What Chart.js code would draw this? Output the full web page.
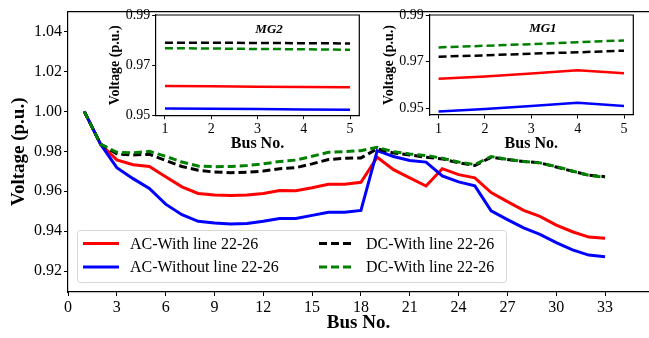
<!DOCTYPE html>
<html>
<head>
<meta charset="utf-8">
<script src="https://cdn.jsdelivr.net/npm/chart.js@4/dist/chart.umd.min.js"></script>
<style>
  html, body { margin: 0; padding: 0; background: #fff; overflow: hidden; }
  #wrap { position: relative; width: 649px; height: 338px; }
  canvas { position: absolute; }
</style>
</head>
<body>
<div id="wrap">
  <canvas id="mainChart" style="left:0;top:0;width:649px;height:338px" width="649" height="338"></canvas>
  <canvas id="mg2Chart" style="left:100px;top:0;width:270px;height:160px" width="270" height="160"></canvas>
  <canvas id="mg1Chart" style="left:375px;top:0;width:274px;height:160px" width="274" height="160"></canvas>
</div>
<script>
// Data utama (33 bus)
const buses = [1,2,3,4,5,6,7,8,9,10,11,12,13,14,15,16,17,18,19,20,21,22,23,24,25,26,27,28,29,30,31,32,33];
const acWith = [1.000, 0.9836, 0.9757, 0.9733, 0.9724, 0.9672, 0.9622, 0.9589, 0.9581, 0.9578, 0.9581, 0.9589, 0.9604, 0.9602, 0.9617, 0.9635, 0.9635, 0.9645, 0.9770, 0.9708, 0.9667, 0.9626, 0.9713, 0.9683, 0.9667, 0.9593, 0.9548, 0.9504, 0.9474, 0.9430, 0.9397, 0.9370, 0.9364];
const acWithout = [1.000, 0.9836, 0.9718, 0.9663, 0.9614, 0.9535, 0.9482, 0.9449, 0.9441, 0.9436, 0.9438, 0.9449, 0.9463, 0.9463, 0.9479, 0.9495, 0.9495, 0.9504, 0.9803, 0.9774, 0.9754, 0.9746, 0.9677, 0.9647, 0.9627, 0.9502, 0.9458, 0.9416, 0.9384, 0.9342, 0.9306, 0.9280, 0.9272];
const dcWithBlack = [1.000, 0.9836, 0.9787, 0.9782, 0.9785, 0.9754, 0.9724, 0.9705, 0.9696, 0.9693, 0.9695, 0.9701, 0.9713, 0.9718, 0.9737, 0.9759, 0.9765, 0.9767, 0.9812, 0.9792, 0.9782, 0.9770, 0.9762, 0.9742, 0.9729, 0.9770, 0.9759, 0.9749, 0.9742, 0.9721, 0.9700, 0.9680, 0.9673];
const dcWithGreen = [1.000, 0.9836, 0.9795, 0.9792, 0.9800, 0.9775, 0.9746, 0.9726, 0.9723, 0.9724, 0.9729, 0.9737, 0.9749, 0.9756, 0.9775, 0.9795, 0.9798, 0.9803, 0.9820, 0.9798, 0.9787, 0.9779, 0.9765, 0.9746, 0.9734, 0.9774, 0.9759, 0.9749, 0.9742, 0.9724, 0.9701, 0.9680, 0.9670];

const mainXTicks = [0,3,6,9,12,15,18,21,24,27,30,33];
const mainYTicks = [0.92,0.94,0.96,0.98,1.00,1.02,1.04];

// Inset MG2 / MG1 (5 bus)
const mgBuses = [1,2,3,4,5];
const mg2AcWith = [0.9618, 0.9617, 0.9615, 0.9614, 0.9613];
const mg2AcWithout = [0.9529, 0.9528, 0.9527, 0.9525, 0.9524];
const mg2DcBlack = [0.9790, 0.9790, 0.9789, 0.9788, 0.9787];
const mg2DcGreen = [0.9768, 0.9767, 0.9765, 0.9764, 0.9762];

const mg1AcWith = [0.9626, 0.9636, 0.9649, 0.9663, 0.9650];
const mg1AcWithout = [0.9486, 0.9497, 0.9510, 0.9524, 0.9510];
const mg1DcBlack = [0.9721, 0.9727, 0.9734, 0.9740, 0.9747];
const mg1DcGreen = [0.9761, 0.9768, 0.9775, 0.9783, 0.9791];

const mgXTicks = [1,2,3,4,5];
const mgYTicks = [0.95,0.97,0.99];

const labels = ['AC-With line 22-26', 'AC-Without line 22-26', 'DC-With line 22-26', 'DC-With line 22-26'];
const colors = ['#ff0000', '#0000ff', '#000000', '#008000'];
const SERIF = '"Liberation Serif", Tinos, "DejaVu Serif", serif';

function makeDatasets(xs, series, lw) {
    return series.map((ys, i) => ({
        label: labels[i],
        data: xs.map((x, j) => ({ x: x, y: ys[j] })),
        borderColor: colors[i],
        borderWidth: lw,
        borderDash: i >= 2 ? [8, 4] : [],
        pointRadius: 0,
        tension: 0,
        fill: false,
        order: 4 - i
    }));
}

// Bingkai atas / kanan dan judul MG
const framePlugin = {
    id: 'frame',
    beforeDraw(chart, args, opts) {
        const a = chart.chartArea;
        const ctx = chart.ctx;
        if (opts.fill) {
            ctx.save();
            ctx.fillStyle = '#ffffff';
            ctx.fillRect(a.left, a.top, a.right - a.left, a.bottom - a.top);
            ctx.restore();
        }
    },
    afterDraw(chart, args, opts) {
        const a = chart.chartArea;
        const ctx = chart.ctx;
        ctx.save();
        ctx.strokeStyle = '#000';
        ctx.lineWidth = 1.2;
        ctx.beginPath();
        ctx.moveTo(a.left, a.top);
        ctx.lineTo(a.right, a.top);
        if (opts.right) ctx.lineTo(a.right, a.bottom);
        ctx.stroke();
        if (opts.title) {
            const x = chart.scales.x.getPixelForValue(opts.titleX);
            const y = chart.scales.y.getPixelForValue(opts.titleY);
            ctx.fillStyle = '#000';
            ctx.textAlign = 'center';
            ctx.textBaseline = 'middle';
            ctx.font = 'italic bold 13px ' + SERIF;
            ctx.fillText(opts.title, x, y);
        }
        ctx.restore();
    }
};

// Legenda dua kolom di dalam area plot
const legendPlugin = {
    id: 'boxLegend',
    afterDraw(chart, args, opts) {
        if (!opts.show) return;
        const ctx = chart.ctx;
        const ds = chart.data.datasets;
        const bx = 77, by = 230, bw = 429, bh = 52;
        ctx.save();
        ctx.fillStyle = 'rgba(255,255,255,0.8)';
        ctx.strokeStyle = '#d6d6d6';
        ctx.lineWidth = 1;
        ctx.beginPath();
        ctx.roundRect(bx + 0.5, by + 0.5, bw, bh, 3);
        ctx.fill();
        ctx.stroke();
        const cols = [{ lx: 83, tx: 130 }, { lx: 319, tx: 366 }];
        const rows = [243.5, 267];
        ctx.font = '16px ' + SERIF;
        ctx.textBaseline = 'middle';
        ctx.textAlign = 'left';
        ds.forEach((d, i) => {
            const c = cols[Math.floor(i / 2)];
            const y = rows[i % 2];
            ctx.strokeStyle = d.borderColor;
            ctx.lineWidth = 3;
            ctx.setLineDash(d.borderDash);
            ctx.beginPath();
            ctx.moveTo(c.lx, y);
            ctx.lineTo(c.lx + 36, y);
            ctx.stroke();
            ctx.setLineDash([]);
            ctx.fillStyle = '#000';
            ctx.fillText(d.label, c.tx, y + 1);
        });
        ctx.restore();
    }
};

function axisOpts(cfg) {
    return {
        type: 'linear',
        min: cfg.min,
        max: cfg.max,
        afterBuildTicks: (scale) => { scale.ticks = cfg.ticks.map(v => ({ value: v })); },
        afterFit: (scale) => {
            if (cfg.width !== undefined) scale.width = cfg.width;
            if (cfg.height !== undefined) scale.height = cfg.height;
        },
        border: { display: true, color: '#000', width: 1.2 },
        grid: { display: true, drawOnChartArea: false, drawTicks: true, tickLength: cfg.tickLen, tickColor: '#000', tickWidth: 1 },
        ticks: {
            color: '#000',
            font: { family: SERIF, size: cfg.tickSize },
            padding: cfg.pad,
            maxRotation: 0,
            autoSkip: false,
            callback: cfg.fmt
        },
        title: {
            display: true,
            text: cfg.title,
            color: '#000',
            font: { family: SERIF, size: cfg.titleSize, weight: 'bold' },
            padding: cfg.titlePad
        }
    };
}

function makeChart(id, xs, series, o) {
    return new Chart(document.getElementById(id), {
        type: 'line',
        data: { datasets: makeDatasets(xs, series, o.lw) },
        options: {
            responsive: false,
            animation: false,
            events: [],
            layout: { padding: o.padding },
            plugins: {
                legend: { display: false },
                tooltip: { enabled: false },
                frame: o.frame,
                boxLegend: { show: !!o.legend }
            },
            scales: {
                x: axisOpts(o.x),
                y: axisOpts(o.y)
            }
        },
        plugins: [framePlugin, legendPlugin]
    });
}

function buildAll() {
    makeChart('mainChart', buses, [acWith, acWithout, dcWithBlack, dcWithGreen], {
        lw: 3,
        padding: { top: 7, right: 0, left: 0, bottom: 0 },
        frame: { right: false },
        legend: true,
        x: { min: 0, max: 35.7, ticks: mainXTicks, height: 46, tickLen: 4, tickSize: 16, pad: 2,
             fmt: v => String(v), title: 'Bus No.', titleSize: 19, titlePad: { top: 0, bottom: 4 } },
        y: { min: 0.9095, max: 1.05, ticks: mainYTicks, width: 68, tickLen: 4, tickSize: 16, pad: 2,
             fmt: v => v.toFixed(2), title: 'Voltage (p.u.)', titleSize: 19, titlePad: { top: 8, bottom: 0 } }
    });

    makeChart('mg2Chart', mgBuses, [mg2AcWith, mg2AcWithout, mg2DcBlack, mg2DcGreen], {
        lw: 2.5,
        padding: { top: 15, right: 10.7, left: 0, bottom: 0 },
        frame: { right: true, fill: true, title: 'MG2', titleX: 3.25, titleY: 0.984 },
        x: { min: 0.8, max: 5.2, ticks: mgXTicks, height: 44.3, tickLen: 3.5, tickSize: 14, pad: 2,
             fmt: v => String(v), title: 'Bus No.', titleSize: 16, titlePad: { top: 0, bottom: 7 } },
        y: { min: 0.95, max: 0.99, ticks: mgYTicks, width: 55.7, tickLen: 3.5, tickSize: 14, pad: 2,
             fmt: v => v.toFixed(2), title: 'Voltage (p.u.)', titleSize: 14, titlePad: { top: 6.6, bottom: 0 } }
    });

    makeChart('mg1Chart', mgBuses, [mg1AcWith, mg1AcWithout, mg1DcBlack, mg1DcGreen], {
        lw: 2.5,
        padding: { top: 15, right: 15.7, left: 0, bottom: 0 },
        frame: { right: true, fill: true, title: 'MG1', titleX: 3.25, titleY: 0.984 },
        x: { min: 0.8, max: 5.2, ticks: mgXTicks, height: 45, tickLen: 3.5, tickSize: 14, pad: 2,
             fmt: v => String(v), title: 'Bus No.', titleSize: 16, titlePad: { top: 0, bottom: 7 } },
        y: { min: 0.9471, max: 0.99, ticks: mgYTicks, width: 54.3, tickLen: 3.5, tickSize: 14, pad: 2,
             fmt: v => v.toFixed(2), title: 'Voltage (p.u.)', titleSize: 14, titlePad: { top: 6, bottom: 0 } }
    });
}

document.addEventListener('DOMContentLoaded', () => {
    const loads = ['16px "Liberation Serif"', 'bold 16px "Liberation Serif"', 'italic bold 13px "Liberation Serif"']
        .map(f => document.fonts.load(f).catch(() => null));
    Promise.all(loads).then(buildAll, buildAll);
});
</script>
</body>
</html>
